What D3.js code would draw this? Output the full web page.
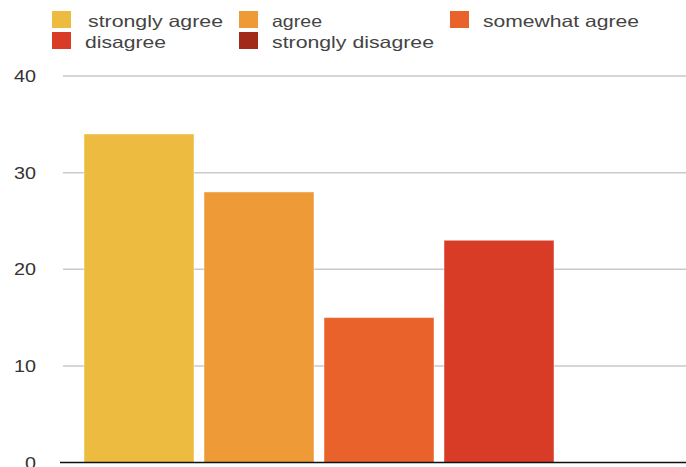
<!DOCTYPE html>
<html>
<head>
<meta charset="utf-8">
<script src="https://cdn.jsdelivr.net/npm/d3@7"></script>
<style>
  html, body { margin: 0; padding: 0; background: #fff; overflow: hidden; }
  svg { display: block; }
</style>
</head>
<body>
<svg id="chart" width="686" height="467"></svg>
<script>
const categories = ["strongly agree", "agree", "somewhat agree", "disagree", "strongly disagree"];
const values = [34, 28, 15, 23, 0];
const colors = ["#EDBB3F", "#EE9B37", "#EA622B", "#D93C26", "#A22A1A"];
const yTicks = [0, 10, 20, 30, 40];
const legendTextWidths = [135, 50, 156, 81, 162];

const svg = d3.select("#chart");
const font = "'Liberation Sans', Arial, Helvetica, sans-serif";

const y = d3.scaleLinear().domain([0, 40]).range([462.5, 76]);
const x = d3.scaleBand().domain(categories).range([84, 674]).paddingInner(1 / 12).paddingOuter(0);

// gridlines
svg.append("g").selectAll("line").data(yTicks.filter(d => d > 0)).join("line")
  .attr("x1", 63).attr("x2", 686)
  .attr("y1", d => y(d)).attr("y2", d => y(d))
  .attr("stroke", "#c9c9c9").attr("stroke-width", 1.5);

// y labels
svg.append("g").selectAll("text").data(yTicks).join("text")
  .attr("x", 36).attr("y", d => y(d)).attr("dy", "0.36em")
  .attr("text-anchor", "end")
  .attr("font-family", font).attr("font-size", 17)
  .attr("fill", "#333")
  .attr("textLength", d => String(d).length * 11)
  .attr("lengthAdjust", "spacingAndGlyphs")
  .text(d => d);

// bars
svg.append("g").selectAll("rect").data(values).join("rect")
  .attr("x", (d, i) => x(categories[i]))
  .attr("width", x.bandwidth())
  .attr("y", d => y(d))
  .attr("height", d => y(0) - y(d))
  .attr("fill", (d, i) => colors[i])
  .attr("stroke", "rgba(255,255,255,0.45)")
  .attr("stroke-width", 1)
  .style("display", d => d > 0 ? null : "none");

// baseline axis
svg.append("line")
  .attr("x1", 60).attr("x2", 686)
  .attr("y1", y(0)).attr("y2", y(0))
  .attr("stroke", "#111").attr("stroke-width", 1.5);

// legend
const legendCols = [52, 239, 450];
const legendRows = [11, 32];
const lg = svg.append("g").selectAll("g").data(categories).join("g")
  .attr("transform", (d, i) => `translate(${legendCols[i % 3]},${legendRows[Math.floor(i / 3)]})`);
lg.append("rect")
  .attr("width", 19).attr("height", 17)
  .attr("fill", (d, i) => colors[i]);
lg.append("text")
  .attr("x", (d, i) => i === 0 ? 36 : 33)
  .attr("y", 15.5)
  .attr("font-family", font).attr("font-size", 16.5)
  .attr("fill", "#444")
  .attr("textLength", (d, i) => legendTextWidths[i])
  .attr("lengthAdjust", "spacingAndGlyphs")
  .text(d => d);
</script>
</body>
</html>
